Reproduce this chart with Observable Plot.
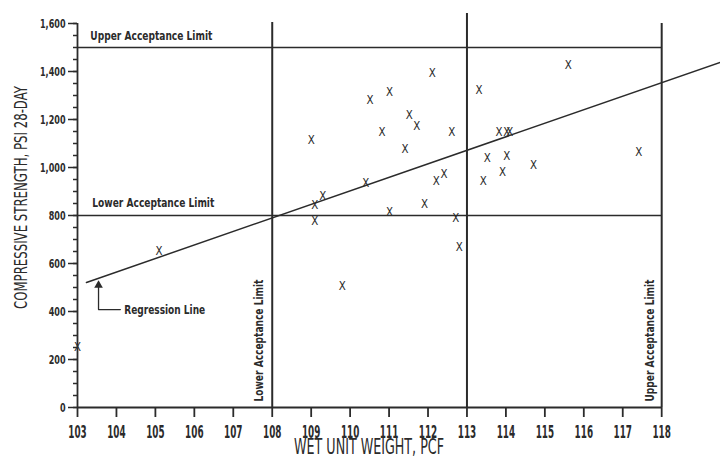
<!DOCTYPE html>
<html><head><meta charset="utf-8">
<script src="https://cdn.jsdelivr.net/npm/d3@7"></script>
<script src="https://cdn.jsdelivr.net/npm/@observablehq/plot@0.6"></script>
<style>body{margin:0;background:#fff}</style>
</head><body><div id="chart"></div>
<script>
// Data
const weight   = [103.0, 105.09, 109.0, 109.09, 109.09, 109.3, 109.8, 110.4, 110.51, 110.82, 111.01, 111.01, 111.41, 111.52, 111.71, 111.91, 112.11, 112.21, 112.41, 112.61, 112.71, 112.8, 113.31, 113.42, 113.52, 113.82, 113.91, 114.02, 114.02, 114.1, 114.71, 115.6, 117.41];
const strength = [254, 654, 1115, 842, 776, 882, 507, 936, 1281, 1150, 1314, 815, 1078, 1220, 1171, 847, 1394, 943, 971, 1150, 789, 668, 1325, 943, 1040, 1147, 981, 1049, 1147, 1147, 1011, 1429, 1065];

const xTicks = [103,104,105,106,107,108,109,110,111,112,113,114,115,116,117,118];
const yTicks = [0,200,400,600,800,1000,1200,1400,1600];
const yMinor = [0,50,100,150,200,250,300,350,400,450,500,550,600,650,700,750,800,850,900,950,1000,1050,1100,1150,1200,1250,1300,1350,1400,1450,1500,1550,1600];

// Regression line end points
const regX = [103.23, 119.5];
const regY = [521, 1438];

// Acceptance limits
const strengthLimits = [800, 1500];
const weightLimits = [108, 113, 118];
const weightLimitTops = [1604, 1642, 1600];

const hLabels = ["Upper Acceptance Limit", "Lower Acceptance Limit"];
const hLabelX = [103.33, 103.38];
const hLabelY = [1547, 854];
const vLabels = ["Lower Acceptance Limit", "Upper Acceptance Limit"];
const vLabelX = [107.67, 117.69];
const vLabelY = [279, 279];

const regLabel = "Regression Line";
const regLabelX = 104.2, regLabelY = 408;
const arrowX = 103.54, arrowTail = 408, arrowHead = 527;

const xTitle = "WET UNIT WEIGHT, PCF";
const yTitle = "COMPRESSIVE STRENGTH, PSI 28-DAY";

const FONT = "'DejaVu Sans', sans-serif";
const INK = "#2b2b2b";

const points = weight.map((w, i) => ({w, s: strength[i]}));
const reg = regX.map((x, i) => ({x, y: regY[i]}));
const vlines = weightLimits.map((x, i) => ({x, top: weightLimitTops[i]}));

const chart = Plot.plot({
  width: 720, height: 465,
  marginLeft: 77, marginRight: 0, marginTop: 23, marginBottom: 58,
  x: {domain: [103, 119.51]},
  y: {domain: [0, 1600]},
  style: {fontFamily: FONT, color: INK, background: "#fff"},
  marks: [
    Plot.ruleY(strengthLimits, {x1: 103, x2: 118, stroke: INK, strokeWidth: 1.6}),
    Plot.ruleX(vlines, {x: "x", y1: 0, y2: "top", stroke: INK, strokeWidth: 2}),
    Plot.ruleX([103], {y1: 0, y2: 1600, stroke: INK, strokeWidth: 1.8}),
    Plot.ruleY([0], {x1: 103, x2: 118, stroke: INK, strokeWidth: 1.8}),
    Plot.axisY({ticks: yMinor, tickSize: 4, tickFormat: () => "", label: null, stroke: INK, strokeWidth: 1.5}),
    Plot.axisY({ticks: yTicks, tickSize: 9, tickPadding: 3, tickFormat: d3.format(","), label: null, fontSize: 13, fontWeight: "bold", stroke: INK, strokeWidth: 1.5}),
    Plot.axisX({ticks: xTicks, tickSize: 10, tickPadding: 8, tickFormat: d => String(d), label: null, fontSize: 17, fontWeight: "bold", stroke: INK, strokeWidth: 1.8}),
    Plot.line(reg, {x: "x", y: "y", stroke: INK, strokeWidth: 1.5}),
    Plot.text(points, {x: "w", y: "s", text: () => "X", fontSize: 12.5, fill: INK}),
    Plot.text(hLabels, {x: (d, i) => hLabelX[i], y: (d, i) => hLabelY[i], text: d => d, textAnchor: "start", fontSize: 13, fontWeight: "bold", fill: INK}),
    Plot.text(vLabels, {x: (d, i) => vLabelX[i], y: (d, i) => vLabelY[i], text: d => d, rotate: -90, fontSize: 12.5, fontWeight: "bold", fill: INK}),
    Plot.text([regLabel], {x: regLabelX, y: regLabelY, text: d => d, textAnchor: "start", fontSize: 13, fontWeight: "bold", fill: INK}),
    Plot.line([{x: regLabelX - 0.1, y: arrowTail}, {x: arrowX, y: arrowTail}, {x: arrowX, y: arrowHead - 20}], {x: "x", y: "y", stroke: INK, strokeWidth: 1.3}),
    Plot.dot([{x: arrowX, y: arrowHead - 18}], {x: "x", y: "y", symbol: "triangle", r: 3.2, fill: INK, stroke: "none"}),
    Plot.text([xTitle], {frameAnchor: "bottom", dx: -30, dy: 46, text: d => d, fontSize: 22, fill: INK}),
    Plot.text([yTitle], {frameAnchor: "left", textAnchor: "middle", dx: -56, dy: -18, rotate: -90, text: d => d, fontSize: 18, fill: INK})
  ]
});
document.getElementById("chart").appendChild(chart);

// condense the lettering like the plotter font of the reference
const fixedLength = new Map([
  ...hLabels.map(t => [t, 122]),
  [regLabel, 81],
  [xTitle, 150],
  [yTitle, 223]
]);
d3.select(chart).selectAll("text").each(function () {
  const t = this.textContent;
  const w = this.getComputedTextLength();
  if (!t || !w) return;
  const group = this.parentNode.getAttribute("aria-label") || "";
  let L;
  if (group === "x-axis tick label") L = w * 0.52;
  else if (group === "y-axis tick label") L = w * 0.62;
  else if (t === "X") L = w * 0.82;
  else if (fixedLength.has(t)) L = fixedLength.get(t);
  else if (vLabels.includes(t)) L = 125;
  if (L) {
    this.setAttribute("textLength", L);
    this.setAttribute("lengthAdjust", "spacingAndGlyphs");
  }
});
</script>
</body></html>
